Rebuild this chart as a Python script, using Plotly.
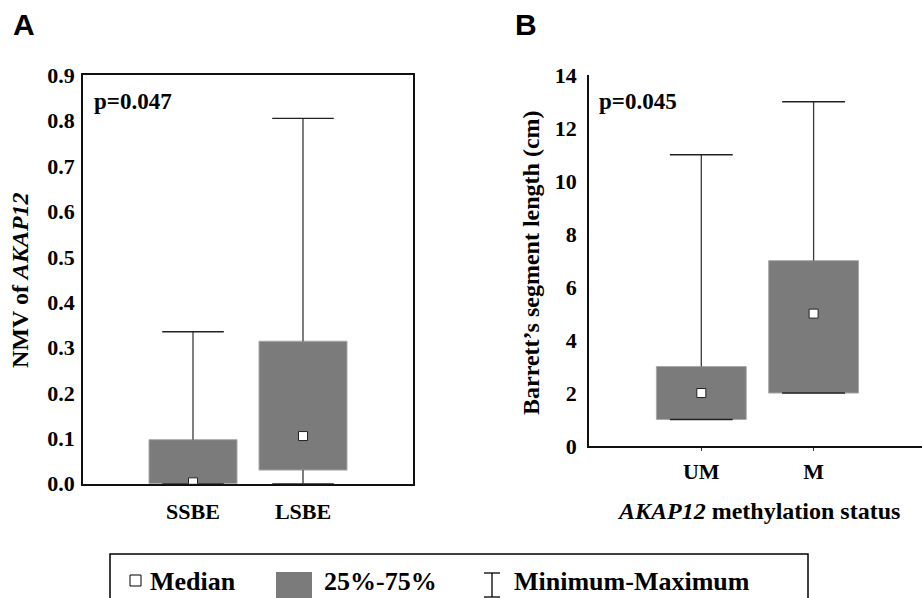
import plotly.graph_objects as go

W, H = 922, 598

# ---- panel A: NMV of AKAP12 by Barrett's segment type ----
groups_a = ["SSBE", "LSBE"]
min_a = [0.0, 0.0]
q1_a = [0.0, 0.03]
med_a = [0.003, 0.105]
q3_a = [0.097, 0.314]
max_a = [0.335, 0.805]

# ---- panel B: Barrett's segment length by AKAP12 methylation status ----
groups_b = ["UM", "M"]
min_b = [1, 2]
q1_b = [1, 2]
med_b = [2, 5]
q3_b = [3, 7]
max_b = [11, 13]

pos = [1, 2]
yticks_a = [0.0, 0.1, 0.2, 0.3, 0.4, 0.5, 0.6, 0.7, 0.8, 0.9]
yticks_b = [0, 2, 4, 6, 8, 10, 12, 14]

BOX = "#7b7b7b"
SERIF = "Liberation Serif"
SANS = "Liberation Sans"


def fx(p):
    return p / W


def fy(p):
    return 1 - p / H


fig = go.Figure()


def add_panel(xr, yr, mins, q1, med, q3, maxs, cap=0.28):
    # 25%-75% boxes
    fig.add_trace(go.Bar(
        x=pos, y=[b - a for a, b in zip(q1, q3)], base=q1, width=0.8,
        marker=dict(color=BOX, line=dict(color="#a8a8a8", width=1)),
        xaxis=xr, yaxis=yr, showlegend=False, hoverinfo="skip"))
    # whiskers outside the box
    wx, wy = [], []
    for p, lo, a, b, hi in zip(pos, mins, q1, q3, maxs):
        wx += [p, p, None]
        wy += [b, hi, None]
        if a > lo:
            wx += [p, p, None]
            wy += [lo, a, None]
    fig.add_trace(go.Scatter(x=wx, y=wy, mode="lines",
                             line=dict(color="#3a3a3a", width=1.3),
                             xaxis=xr, yaxis=yr, showlegend=False, hoverinfo="skip"))
    # min / max caps
    cx, cy = [], []
    for p, lo, hi in zip(pos, mins, maxs):
        cx += [p - cap, p + cap, None, p - cap, p + cap, None]
        cy += [hi, hi, None, lo, lo, None]
    fig.add_trace(go.Scatter(x=cx, y=cy, mode="lines",
                             line=dict(color="#222222", width=1.4),
                             xaxis=xr, yaxis=yr, showlegend=False, hoverinfo="skip"))
    # medians
    fig.add_trace(go.Scatter(x=pos, y=med, mode="markers",
                             marker=dict(symbol="square", size=9, color="white",
                                         line=dict(color="#222222", width=1)),
                             xaxis=xr, yaxis=yr, showlegend=False, hoverinfo="skip"))


add_panel("x", "y", min_a, q1_a, med_a, q3_a, max_a)
add_panel("x2", "y2", min_b, q1_b, med_b, q3_b, max_b)

tickfont = dict(family=SERIF, size=22, color="black", weight="bold")
catfont = dict(family=SERIF, size=22, color="black", weight="bold")

xa_dom = [fx(83), fx(413)]
ya_dom = [fy(483.7), fy(75.3)]
xb_dom = [fx(589), 1.0]
yb_dom = [fy(446), fy(75.3)]
xb_max = (922 - 589) / 112.3

common = dict(showgrid=False, zeroline=False, automargin=False, fixedrange=True)

fig.update_layout(
    width=W, height=H,
    margin=dict(l=0, r=0, t=0, b=0, pad=0, autoexpand=False),
    paper_bgcolor="white", plot_bgcolor="white",
    barmode="overlay",
    showlegend=False,
    xaxis=dict(domain=xa_dom, range=[0, 3], tickvals=pos, ticktext=groups_a,
               showline=True, mirror=True, linecolor="#111", linewidth=1.5,
               ticks="", tickfont=catfont, ticklabelstandoff=7, anchor="y", **common),
    yaxis=dict(domain=ya_dom, range=[0, 0.9], tickvals=yticks_a, tickformat=".1f",
               showline=True, mirror=True, linecolor="#111", linewidth=1.5,
               ticks="", tickfont=tickfont, ticklabelstandoff=2, anchor="x", **common),
    xaxis3=dict(overlaying="x", side="top", range=[0, 3], tickvals=pos,
                ticks="inside", ticklen=5, tickcolor="#222", showticklabels=False,
                showline=False, anchor="y", **common),
    yaxis3=dict(overlaying="y", side="right", range=[0, 0.9], tickvals=yticks_a,
                ticks="inside", ticklen=4, tickcolor="#555", showticklabels=False,
                showline=False, anchor="x", **common),
    xaxis2=dict(domain=xb_dom, range=[0, xb_max], tickvals=pos, ticktext=groups_b,
                showline=True, mirror=False, linecolor="#111", linewidth=1.5,
                ticks="outside", ticklen=3, tickcolor="#333",
                tickfont=catfont, ticklabelstandoff=2, anchor="y2", **common),
    yaxis2=dict(domain=yb_dom, range=[0, 14], tickvals=yticks_b,
                showline=True, mirror=False, linecolor="#111", linewidth=1.5,
                ticks="", tickfont=tickfont, ticklabelstandoff=6, anchor="x2", **common),
    xaxis4=dict(overlaying="x2", side="top", range=[0, xb_max], tickvals=pos,
                ticks="inside", ticklen=5, tickcolor="#222", showticklabels=False,
                showline=True, linecolor="#111", linewidth=1.5, anchor="y2", **common),
    yaxis4=dict(overlaying="y2", side="right", range=[0, 14], tickvals=yticks_b,
                ticks="inside", ticklen=2, tickcolor="#999", showticklabels=False,
                showline=False, anchor="x2", **common),
)


def ann(text, x, y, size, family=SERIF, xanchor="center", yanchor="middle", angle=0):
    fig.add_annotation(text=text, x=fx(x), y=fy(y), xref="paper", yref="paper",
                       xanchor=xanchor, yanchor=yanchor, showarrow=False,
                       textangle=angle,
                       font=dict(family=family, size=size, color="black"))


# panel letters
ann("<b>A</b>", 24, 25, 30, family=SANS)
ann("<b>B</b>", 526, 25, 30, family=SANS)
# p values
ann("<b>p=0.047</b>", 92, 101, 23, xanchor="left")
ann("<b>p=0.045</b>", 597, 101, 23, xanchor="left")
# axis titles
ann("<b>NMV of <i>AKAP12</i></b>", 20, 280, 24, angle=-90)
ann("<b>Barrett’s segment length (cm)</b>", 531, 263, 24, angle=-90)
ann("<b><i>AKAP12</i> methylation status</b>", 758, 511, 24)

# ---- legend box, drawn ----
fig.add_shape(type="rect", xref="paper", yref="paper",
              x0=fx(110), x1=fx(808), y0=fy(620), y1=fy(554),
              line=dict(color="black", width=1.5), fillcolor="rgba(0,0,0,0)")
fig.add_shape(type="rect", xref="paper", yref="paper",
              x0=fx(130), x1=fx(141), y0=fy(586), y1=fy(575),
              line=dict(color="black", width=1), fillcolor="white")
ann("<b>Median</b>", 148, 581, 26, xanchor="left")
fig.add_shape(type="rect", xref="paper", yref="paper",
              x0=fx(276), x1=fx(312), y0=fy(600), y1=fy(572),
              line=dict(width=0), fillcolor=BOX)
ann("<b>25%-75%</b>", 322, 581, 26, xanchor="left")
for sx0, sy0, sx1, sy1 in [(492, 573, 492, 597), (484, 573, 500, 573), (484, 597, 500, 597)]:
    fig.add_shape(type="line", xref="paper", yref="paper",
                  x0=fx(sx0), y0=fy(sy0), x1=fx(sx1), y1=fy(sy1),
                  line=dict(color="black", width=1.3))
ann("<b>Minimum-Maximum</b>", 512, 581, 26, xanchor="left")

fig.write_html("out.html", config={"displayModeBar": False},
               post_script="document.body.style.margin='0';document.body.style.overflow='hidden';")
